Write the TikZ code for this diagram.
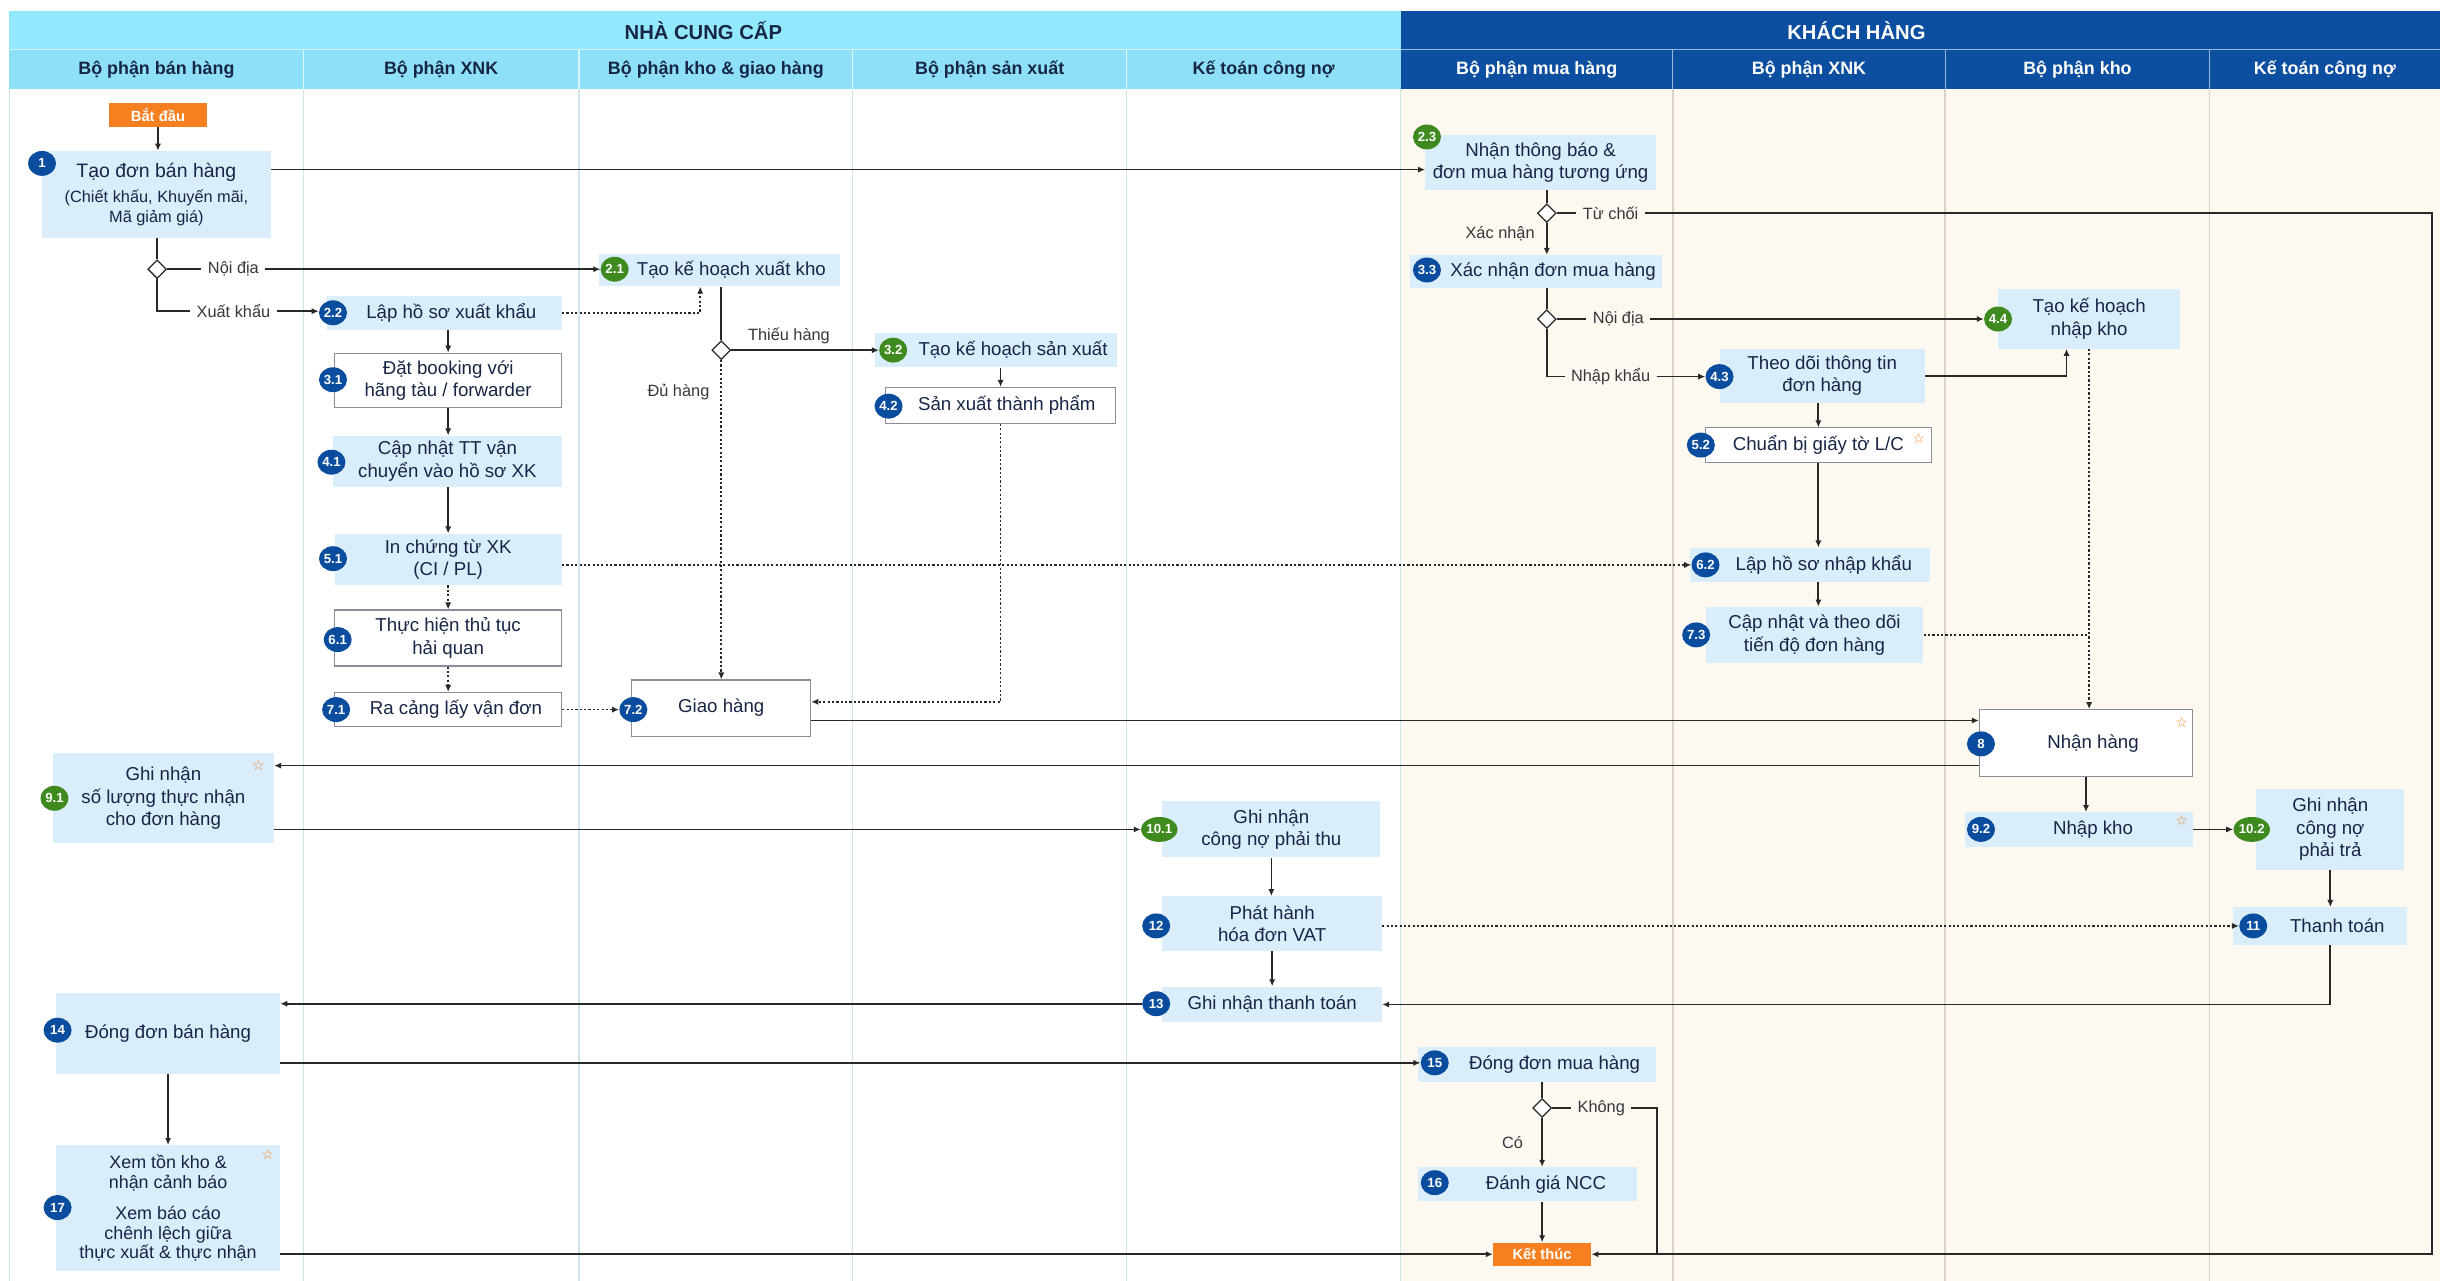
\documentclass[tikz,border=0pt]{standalone}
\usepackage{fontspec}
\setmainfont{Liberation Sans}
\newfontfamily\symf{DejaVu Sans}
\usetikzlibrary{shapes.geometric,arrows.meta,calc}
\definecolor{boxbg}{RGB}{218,237,251}
\definecolor{navy}{RGB}{24,38,70}
\definecolor{bblue}{RGB}{10,76,158}
\definecolor{bgreen}{RGB}{62,138,30}
\definecolor{orng}{RGB}{246,128,32}
\definecolor{titlecyan}{RGB}{146,232,252}
\definecolor{headcyan}{RGB}{141,224,247}
\definecolor{custblue}{RGB}{12,78,160}
\definecolor{beige}{RGB}{253,248,240}
\definecolor{slane}{RGB}{205,230,236}
\definecolor{clane}{RGB}{218,210,200}
\definecolor{conn}{RGB}{40,40,40}
\definecolor{wline}{RGB}{140,140,155}
\definecolor{lblgray}{RGB}{55,55,60}
\newcommand{\pr}[1]{\hspace*{#1}}
\begin{document}
\begin{tikzpicture}[x=1pt,y=-1pt,
  ln/.style={draw=conn, line width=1.1pt},
  arr/.style={ln, -{Latex[length=4.5pt,width=4pt]}},
  dotln/.style={draw=conn, line width=1pt, dash pattern=on 1.4pt off 1.4pt},
  dotarr/.style={dotln, -{Latex[length=4.5pt,width=4pt]}},
  proc/.style={fill=boxbg, text=navy, align=center, inner sep=0pt, font=\fontsize{12}{14.5}\selectfont},
  wproc/.style={proc, fill=white, draw=wline, line width=0.7pt},
  bdg/.style={ellipse, fill=bblue, text=white, inner sep=0pt, minimum width=18pt, minimum height=16pt, font=\fontsize{8.5}{9}\selectfont\bfseries},
  gbdg/.style={bdg, fill=bgreen},
  dec/.style={diamond, draw=conn, fill=white, line width=0.8pt, minimum size=12pt, inner sep=0pt},
  lbl/.style={font=\fontsize{10.5}{12}\selectfont, text=lblgray, inner xsep=4pt, inner ysep=1pt},
  term/.style={fill=orng, text=white, font=\fontsize{9.5}{10}\selectfont\bfseries, minimum width=63pt, minimum height=15pt, inner sep=0pt},
  star/.style={text=orng, font=\symf\fontsize{9}{9}\selectfont, inner sep=0pt},
  hdr/.style={font=\fontsize{11.5}{12}\selectfont\bfseries, text=navy},
  chdr/.style={hdr, text=white},
  ttl/.style={font=\fontsize{13}{14}\selectfont\bfseries, text=navy}
]
\useasboundingbox (0,0) rectangle (1568,823);
% ---------- backgrounds ----------
\fill[white] (0,0) rectangle (1568,823);
\fill[titlecyan] (6,7) rectangle (900,32);
\fill[custblue] (900,7) rectangle (1568,32);
\fill[headcyan] (6,32) rectangle (900,57);
\fill[custblue] (900,32) rectangle (1568,57);
\fill[beige] (900,57) rectangle (1568,823);
\draw[white, line width=0.7pt, opacity=0.6] (6,32) -- (1568,32);
\foreach \x in {195,372,548,724}{
  \draw[white, line width=0.8pt, opacity=0.7] (\x,32) -- (\x,57);
  \draw[slane, line width=0.9pt] (\x,57) -- (\x,823);}
\foreach \x in {1075,1250,1420}{
  \draw[white, line width=0.8pt, opacity=0.6] (\x,32) -- (\x,57);
  \draw[clane, line width=0.9pt] (\x,57) -- (\x,823);}
\draw[slane, line width=0.9pt] (900,57) -- (900,823);
\draw[slane, line width=1pt] (6,57) -- (6,823);
% ---------- headers ----------
\node[ttl] (t1) at (452,19.5) {NHÀ CUNG CẤP};
\node[ttl, text=white] (t2) at (1193,19.5) {KHÁCH HÀNG};
\node[hdr] (h1) at (100.5,44.5) {Bộ phận bán hàng};
\node[hdr] (h2) at (283.5,44.5) {Bộ phận XNK};
\node[hdr] (h3) at (460,44.5) {Bộ phận kho \& giao hàng};
\node[hdr] (h4) at (636,44.5) {Bộ phận sản xuất};
\node[hdr] (h5) at (812,44.5) {Kế toán công nợ};
\node[chdr] (h6) at (987.5,44.5) {Bộ phận mua hàng};
\node[chdr] (h7) at (1162.5,44.5) {Bộ phận XNK};
\node[chdr] (h8) at (1335,44.5) {Bộ phận kho};
\node[chdr] (h9) at (1494,44.5) {Kế toán công nợ};
% ---------- process boxes ----------
\node[term] (start) at (101.5,74) {Bắt đầu};
\node[proc, minimum width=147pt, minimum height=56pt, font=\fontsize{10.5}{13}\selectfont] (n1) at (100.5,125)
  {{\fontsize{12.5}{15}\selectfont Tạo đơn bán hàng}\\[3pt](Chiết khấu, Khuyến mãi,\\Mã giảm giá)};
\node[proc, minimum width=151pt, minimum height=22pt] (n22) at (285.5,201) {\pr{9pt}Lập hồ sơ xuất khẩu};
\node[wproc, minimum width=146pt, minimum height=35pt] (n31) at (288,244.5) {Đặt booking với\\hãng tàu / forwarder};
\node[proc, minimum width=147pt, minimum height=33pt] (n41) at (287.5,296.5) {Cập nhật TT vận\\chuyển vào hồ sơ XK};
\node[proc, minimum width=146pt, minimum height=33pt] (n51) at (288,359.5) {In chứng từ XK\\(CI / PL)};
\node[wproc, minimum width=146pt, minimum height=36pt] (n61) at (288,410) {Thực hiện thủ tục\\hải quan};
\node[wproc, minimum width=146pt, minimum height=22pt] (n71) at (288,456) {\pr{10pt}Ra cảng lấy vận đơn};
\node[proc, minimum width=155pt, minimum height=21pt] (n21) at (462.5,173.5) {\pr{15pt}Tạo kế hoạch xuất kho};
\node[proc, minimum width=155pt, minimum height=22pt] (n32) at (640,225) {\pr{22pt}Tạo kế hoạch sản xuất};
\node[wproc, minimum width=148pt, minimum height=23pt] (n42) at (643,260.5) {\pr{8pt}Sản xuất thành phẩm};
\node[wproc, minimum width=115pt, minimum height=36pt] (n72) at (463.5,455) {Giao hàng};
\node[proc, minimum width=142pt, minimum height=58pt] (n91) at (105,513) {Ghi nhận\\số lượng thực nhận\\cho đơn hàng};
\node[proc, minimum width=140pt, minimum height=36pt] (n101) at (817,533) {Ghi nhận\\công nợ phải thu};
\node[proc, minimum width=141pt, minimum height=35pt] (n12) at (817.5,593.5) {Phát hành\\hóa đơn VAT};
\node[proc, minimum width=141pt, minimum height=23pt] (n13) at (817.5,645.5) {Ghi nhận thanh toán};
\node[proc, minimum width=144pt, minimum height=52pt] (n14) at (108,664) {Đóng đơn bán hàng};
\node[proc, minimum width=144pt, minimum height=81pt, font=\fontsize{11.5}{12.7}\selectfont] (n17) at (108,776.5)
  {Xem tồn kho \&\\nhận cảnh báo\\[7pt]Xem báo cáo\\chênh lệch giữa\\thực xuất \& thực nhận};
\node[proc, minimum width=148pt, minimum height=35pt] (n23) at (990,104.5) {Nhận thông báo \&\\đơn mua hàng tương ứng};
\node[proc, minimum width=162pt, minimum height=21pt] (n33) at (987,174.5) {\pr{22pt}Xác nhận đơn mua hàng};
\node[proc, minimum width=117pt, minimum height=38pt] (n44) at (1342.5,205) {Tạo kế hoạch\\nhập kho};
\node[proc, minimum width=132pt, minimum height=35pt] (n43) at (1171,241.5) {Theo dõi thông tin\\đơn hàng};
\node[wproc, minimum width=145pt, minimum height=22pt] (n52) at (1168.5,286) {Chuẩn bị giấy tờ L/C};
\node[proc, minimum width=154pt, minimum height=22pt] (n62) at (1163,363) {\pr{18pt}Lập hồ sơ nhập khẩu};
\node[proc, minimum width=140pt, minimum height=36pt] (n73) at (1166,408) {Cập nhật và theo dõi\\tiến độ đơn hàng};
\node[wproc, minimum width=137pt, minimum height=43pt] (n8) at (1340.5,477.5) {\pr{9pt}Nhận hàng};
\node[proc, minimum width=146pt, minimum height=22pt] (n92) at (1336,533) {\pr{18pt}Nhập kho};
\node[proc, minimum width=95pt, minimum height=52pt] (n102) at (1497.5,533) {Ghi nhận\\công nợ\\phải trả};
\node[proc, minimum width=112pt, minimum height=24pt] (n11) at (1491,595) {\pr{22pt}Thanh toán};
\node[proc, minimum width=153pt, minimum height=22pt] (n15) at (987.5,684) {\pr{23pt}Đóng đơn mua hàng};
\node[proc, minimum width=141pt, minimum height=22pt] (n16) at (981.5,761) {\pr{24pt}Đánh giá NCC};
\node[term] (end) at (991,806) {Kết thúc};
% ---------- decisions ----------
\node[dec] (d1) at (101,173) {};
\node[dec] (d21) at (463.5,225) {};
\node[dec] (d23) at (994,137) {};
\node[dec] (d33) at (994,205) {};
\node[dec] (d15) at (991,712) {};
% ---------- branch labels ----------
\node[lbl] (lnoi1) at (150,173) {Nội địa};
\node[lbl] (lxk) at (150,200) {Xuất khẩu};
\node[lbl] (lthieu) at (507,216) {Thiếu hàng};
\node[lbl] (ldu) at (436,252) {Đủ hàng};
\node[lbl] (ltc) at (1035,137) {Từ chối};
\node[lbl] (lxn) at (964,150) {Xác nhận};
\node[lbl] (lnoi2) at (1040,205) {Nội địa};
\node[lbl] (lnk) at (1035,242) {Nhập khẩu};
\node[lbl] (lkh) at (1029,712) {Không};
\node[lbl] (lco) at (972,734) {Có};
% ---------- badges ----------
\node[bdg] (b1) at (27,105) {1};
\node[bdg] (b22) at (214,201) {2.2};
\node[bdg] (b31) at (214,244) {3.1};
\node[bdg] (b41) at (213,297) {4.1};
\node[bdg] (b51) at (214,359) {5.1};
\node[bdg] (b61) at (217,411) {6.1};
\node[bdg] (b71) at (216,456) {7.1};
\node[gbdg] (b21) at (395,173) {2.1};
\node[gbdg] (b32) at (574,225) {3.2};
\node[bdg] (b42) at (571,261) {4.2};
\node[bdg] (b72) at (407,456) {7.2};
\node[gbdg] (b91) at (35,513) {9.1};
\node[gbdg] (b101) at (745,533) {10.1};
\node[bdg] (b12) at (743,595) {12};
\node[bdg] (b13) at (743,645) {13};
\node[bdg] (b14) at (37,662) {14};
\node[bdg] (b17) at (37,776) {17};
\node[gbdg] (b23) at (917,88) {2.3};
\node[bdg] (b33) at (917,173.5) {3.3};
\node[gbdg] (b44) at (1284,205) {4.4};
\node[bdg] (b43) at (1105,242) {4.3};
\node[bdg] (b52) at (1093,286) {5.2};
\node[bdg] (b62) at (1096,363) {6.2};
\node[bdg] (b73) at (1090,408) {7.3};
\node[bdg] (b8) at (1273,478) {8};
\node[bdg] (b92) at (1273,533) {9.2};
\node[gbdg] (b102) at (1447,533) {10.2};
\node[bdg] (b11) at (1448,595) {11};
\node[bdg] (b15) at (922,683) {15};
\node[bdg] (b16) at (922,760) {16};
% ---------- stars ----------
\node[star] (s52) at (1233,282) {☆};
\node[star] (s8) at (1402,464) {☆};
\node[star] (s91) at (166,492) {☆};
\node[star] (s92) at (1402,527) {☆};
\node[star] (s17) at (172,742) {☆};
% ---------- helper coordinates ----------
\coordinate (c2s) at ([yshift=16pt]n1.east);
\coordinate (rt) at (1563,137);
\coordinate (rb) at (1563,806);
\coordinate (kb) at (1065,806);
% ---------- connectors: supplier ----------
\draw[arr] (start.south) -- (start.south |- n1.north);
\draw[arr] (c2s) -- (c2s -| n23.west);
\draw[ln] (n1.south -| d1) -- (d1.north);
\draw[ln] (d1.east) -- (lnoi1.west);
\draw[arr] (lnoi1.east) -- (b21.west);
\draw[ln] (d1.south) |- (lxk.west);
\draw[arr] (lxk.east) -- (lxk.east -| b22.west);
\draw[dotarr] (n22.east) -| ([xshift=-12.5pt]n21.south);
\draw[ln] (n21.south -| d21) -- (d21.north);
\draw[arr] (d21.east) -- (b32.west);
\draw[dotarr] (d21.south) -- (d21.south |- n72.north);
\draw[arr] (n32.south -| n42.north) -- (n42.north);
\draw[dotarr] (n42.south) |- ([yshift=4pt]n72.east);
\draw[arr] (n31.north |- n22.south) -- (n31.north);
\draw[arr] (n31.south) -- (n31.south |- n41.north);
\draw[arr] (n51.north |- n41.south) -- (n51.north);
\draw[dotarr] (n51.south) -- (n51.south |- n61.north);
\draw[dotarr] (n61.south) -- (n61.south |- n71.north);
\draw[dotarr] (n71.east) -- (b72.west);
\draw[dotarr] (n51.east |- b62.west) -- (b62.west);
\draw[arr] ([yshift=-8pt]n72.east) -- ([yshift=14.5pt]n8.west);
\draw[arr] ([yshift=-14.5pt]n8.west) -- ([yshift=21pt]n91.east);
\draw[arr] (n91.east |- b101.west) -- (b101.west);
\draw[arr] (n101.south) -- (n101.south |- n12.north);
\draw[arr] (n12.south) -- (n12.south |- n13.north);
\draw[dotarr] (n12.east |- b11.west) -- (b11.west);
\draw[arr] (b13.west) -- (b13.west -| n14.east);
\draw[arr] (n14.east |- b15.west) -- (b15.west);
\draw[arr] (n14.south) -- (n14.south |- n17.north);
\draw[arr] (n17.east |- end.west) -- (end.west);
% ---------- connectors: customer ----------
\draw[ln] (n23.south -| d23) -- (d23.north);
\draw[ln] (d23.east) -- (ltc.west);
\draw[arr] (ltc.east) -- (ltc.east -| rt) -- (rb) -- (end.east);
\draw[arr] (d23.south) -- (d23.south |- n33.north);
\draw[ln] (n33.south -| d33) -- (d33.north);
\draw[ln] (d33.east) -- (lnoi2.west);
\draw[arr] (lnoi2.east) -- (b44.west);
\draw[ln] (d33.south) |- (lnk.west);
\draw[arr] (lnk.east) -- (b43.west);
\draw[arr] (n43.east) -| ([xshift=-14.5pt]n44.south);
\draw[arr] (n52.north |- n43.south) -- (n52.north);
\draw[arr] (n52.south) -- (n52.south |- n62.north);
\draw[arr] (n52.south |- n62.south) -- (n52.south |- n73.north);
\draw[dotarr] (n44.south) -- (n44.south |- n8.north);
\draw[dotln] (n73.east) -- (n73.east -| n44.south);
\draw[arr] (n8.south) -- (n8.south |- n92.north);
\draw[arr] (n92.east) -- (b102.west);
\draw[arr] (n102.south) -- (n102.south |- n11.north);
\draw[arr] (n102.south |- n11.south) |- (n13.east);
\draw[ln] (n15.south -| d15) -- (d15.north);
\draw[ln] (d15.east) -- (lkh.west);
\draw[ln] (lkh.east) -- (lkh.east -| kb) -- (kb);
\draw[arr] (d15.south) -- (d15.south |- n16.north);
\draw[arr] (end.north |- n16.south) -- (end.north);
\end{tikzpicture}
\end{document}
